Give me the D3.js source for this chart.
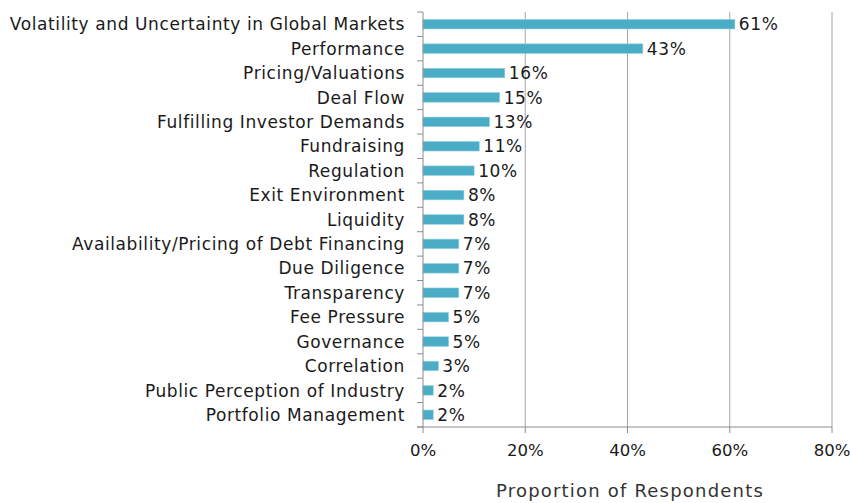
<!DOCTYPE html>
<meta charset="utf-8">
<script src="https://d3js.org/d3.v7.min.js"></script>
<style>
 body { margin: 0; background: #fff; }
 text { font-family: 'DejaVu Sans', sans-serif; fill: #1a1a1a; letter-spacing: 0.6px; }
</style>
<div id="chart"></div>
<script>
 const categories = [
   "Volatility and Uncertainty in Global Markets", "Performance", "Pricing/Valuations",
   "Deal Flow", "Fulfilling Investor Demands", "Fundraising", "Regulation",
   "Exit Environment", "Liquidity", "Availability/Pricing of Debt Financing",
   "Due Diligence", "Transparency", "Fee Pressure", "Governance", "Correlation",
   "Public Perception of Industry", "Portfolio Management"
 ];
 const values = [61, 43, 16, 15, 13, 11, 10, 8, 8, 7, 7, 7, 5, 5, 3, 2, 2];
 const xTicks = [0, 20, 40, 60, 80];

 const W = 850, H = 503;
 const margin = {top: 12, right: 18, bottom: 76, left: 423};
 const width = W - margin.left - margin.right,
       height = H - margin.top - margin.bottom;

 const svg = d3.select("#chart").append("svg")
   .attr("width", W).attr("height", H);
 const g = svg.append("g").attr("transform", `translate(${margin.left},${margin.top})`);

 const x = d3.scaleLinear().domain([0, 80]).range([0, width]);
 const y = d3.scaleBand().domain(categories).range([0, height]).paddingInner(0.61).paddingOuter(0.305);
 const step = y.step();

 // gridlines
 g.selectAll("line.grid").data(xTicks.slice(1)).join("line")
   .attr("x1", d => x(d)).attr("x2", d => x(d))
   .attr("y1", 0).attr("y2", height)
   .attr("stroke", "#a6a6a6").attr("stroke-width", 1);

 // bars
 g.selectAll("rect").data(values).join("rect")
   .attr("x", 0)
   .attr("y", (d, i) => y(categories[i]))
   .attr("width", d => x(d))
   .attr("height", y.bandwidth())
   .attr("fill", "#4bacc6")
   .attr("stroke", "#8fd0e0").attr("stroke-width", 0.6);

 // value labels
 g.selectAll("text.val").data(values).join("text")
   .attr("class", "val")
   .attr("x", d => x(d) + 4)
   .attr("y", (d, i) => y(categories[i]) + y.bandwidth() / 2)
   .attr("dy", "0.36em")
   .style("font-size", "17px")
   .text(d => d + "%");

 // y axis
 const yAxis = g.append("g");
 yAxis.append("line").attr("x1", 0).attr("x2", 0).attr("y1", 0).attr("y2", height)
   .attr("stroke", "#8c8c8c");
 yAxis.selectAll("line.tk").data(d3.range(categories.length + 1)).join("line")
   .attr("x1", -6).attr("x2", 0)
   .attr("y1", d => d * step).attr("y2", d => d * step)
   .attr("stroke", "#8c8c8c");
 yAxis.selectAll("text").data(categories).join("text")
   .attr("x", -18)
   .attr("y", d => y(d) + y.bandwidth() / 2)
   .attr("dy", "0.36em")
   .attr("text-anchor", "end")
   .style("font-size", "17px")
   .text(d => d);

 // x axis
 const xAxis = g.append("g").attr("transform", `translate(0,${height})`);
 xAxis.append("line").attr("x1", -6).attr("x2", width).attr("stroke", "#8c8c8c");
 xAxis.selectAll("line.tk").data(xTicks).join("line")
   .attr("x1", d => x(d)).attr("x2", d => x(d))
   .attr("y1", 0).attr("y2", 6).attr("stroke", "#8c8c8c");
 xAxis.selectAll("text").data(xTicks).join("text")
   .attr("x", d => x(d)).attr("y", 29)
   .attr("text-anchor", "middle")
   .style("font-size", "16.5px")
   .style("letter-spacing", "0px")
   .text(d => d + "%");

 svg.append("text")
   .attr("x", 630).attr("y", 497)
   .attr("text-anchor", "middle")
   .style("font-size", "18px")
   .style("letter-spacing", "1.2px")
   .style("fill", "#333")
   .text("Proportion of Respondents");
</script>
